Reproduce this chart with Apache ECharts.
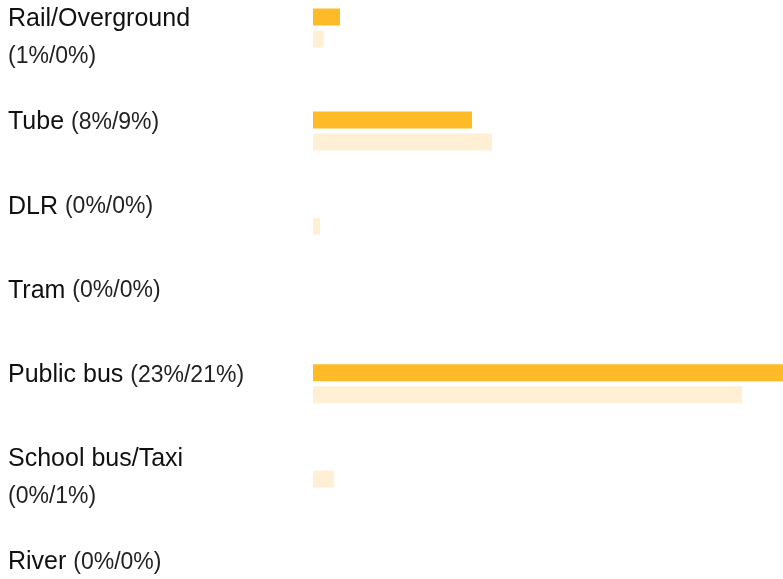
<!DOCTYPE html>
<html>
<head>
<meta charset="utf-8">
<script src="https://cdn.jsdelivr.net/npm/echarts@6/dist/echarts.min.js"></script>
<style>
html,body{margin:0;padding:0;background:#fff;}
#main{width:783px;height:579px;}
</style>
</head>
<body>
<div id="main"></div>
<script>
// categories and values (share of trips, %)
var categories = ['Rail/Overground', 'Tube', 'DLR', 'Tram', 'Public bus', 'School bus/Taxi', 'River'];
var valuesA = [1.32, 7.78, 0, 0, 23, 0, 0];      // dark bars
var valuesB = [0.53, 8.76, 0.34, 0, 21.0, 1.03, 0]; // light bars
var pctA = [1, 8, 0, 0, 23, 0, 0];
var pctB = [0, 9, 0, 0, 21, 1, 0];

var colA = '#FEBB27', colB = '#FFF0D5';
var fontName = "'Liberation Sans', Arial, sans-serif";
var nameSize = 25, pctSize = 23, lineH = 37;

// measure label so long ones wrap like the original
var cv = document.createElement('canvas').getContext('2d');
function textW(s, size){
	cv.font = size + 'px ' + fontName;
	return cv.measureText(s).width;
}

var maxVal = Math.max.apply(null, valuesA.concat(valuesB));
var grids = [], xAxes = [], yAxes = [], series = [], titles = [];
var rowY = 0.5;
for (var i = 0; i < categories.length; i++) {
	var pct = '(' + pctA[i] + '%/' + pctB[i] + '%)';
	var wrap = textW(categories[i] + ' ', nameSize) + textW(pct, pctSize) > 255;
	titles.push({
		text: '{n|' + categories[i] + '}' + (wrap ? '\n' : '{n| }') + '{p|' + pct + '}',
		left: 8,
		top: rowY + 0.5,
		padding: 0,
		textStyle: {
			fontWeight: 'normal',
			rich: {
				n: {fontFamily: fontName, fontSize: nameSize, fontWeight: 'normal', color: '#111', lineHeight: lineH},
				p: {fontFamily: fontName, fontSize: pctSize, fontWeight: 'normal', color: '#222', lineHeight: lineH}
			}
		}
	});
	grids.push({left: 313, right: 0, top: rowY + 8, height: 39});
	xAxes.push({type: 'value', gridIndex: i, min: 0, max: maxVal, show: false});
	// inverse so dark bar sits above light bar
	yAxes.push({type: 'category', gridIndex: i, data: [categories[i]], show: false, inverse: true});
	series.push({
		type: 'bar', xAxisIndex: i, yAxisIndex: i, data: [valuesA[i]],
		barWidth: 17, barGap: '29.4%', itemStyle: {color: colA}, silent: true
	});
	series.push({
		type: 'bar', xAxisIndex: i, yAxisIndex: i, data: [valuesB[i]],
		barWidth: 17, barGap: '29.4%', itemStyle: {color: colB}, silent: true
	});
	rowY += wrap ? 103 : 84.25;
}

var myChart = echarts.init(document.getElementById('main'), null, {renderer: 'canvas'});
myChart.setOption({
	animation: false,
	title: titles,
	grid: grids,
	xAxis: xAxes,
	yAxis: yAxes,
	series: series
});
</script>
</body>
</html>
